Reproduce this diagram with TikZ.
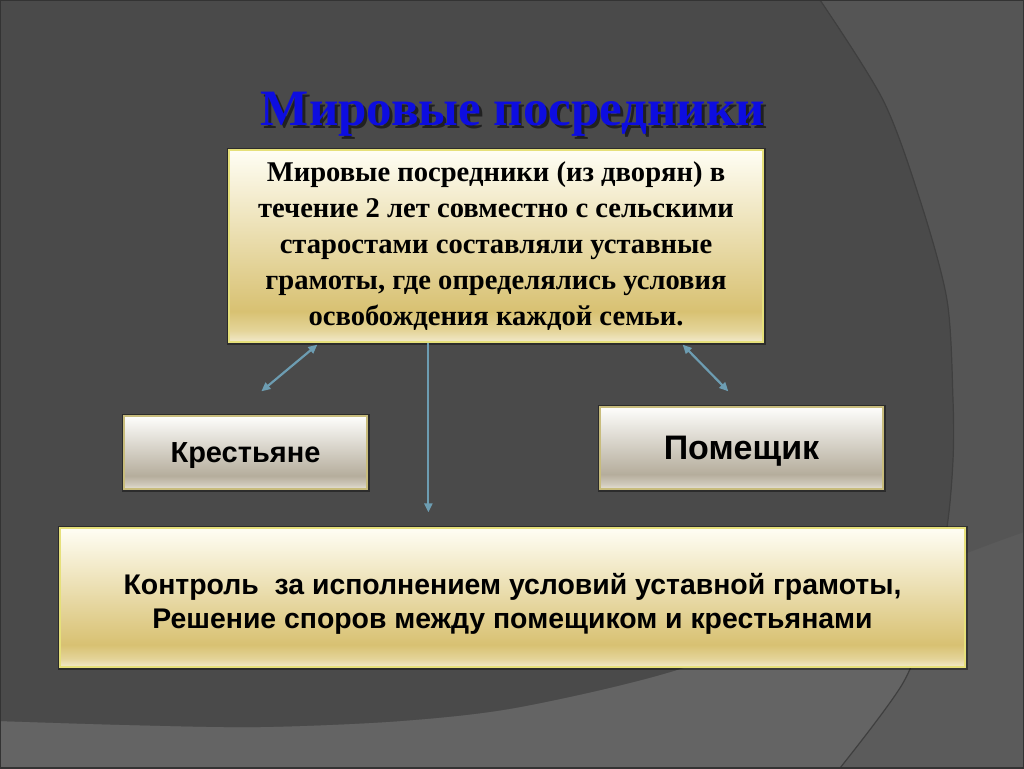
\documentclass[tikz,border=0pt]{standalone}
\usepackage{fontspec}
\setmainfont{Liberation Serif}
\setsansfont{Liberation Sans}
\usetikzlibrary{arrows.meta}
\definecolor{bgdark}{HTML}{4A4A4A}
\definecolor{bgright}{HTML}{555555}
\definecolor{bgband}{HTML}{646464}
\definecolor{bgbandr}{HTML}{5B5B5B}
\definecolor{arcline}{HTML}{3F3F3F}
\definecolor{framec}{HTML}{333333}
\definecolor{gtop}{HTML}{FFFEF4}
\definecolor{gmid}{HTML}{E4D499}
\definecolor{ggold}{HTML}{D8C172}
\definecolor{gbot}{HTML}{F2EACB}
\definecolor{stop}{HTML}{FEFEFC}
\definecolor{smid}{HTML}{D0CABC}
\definecolor{sgray}{HTML}{B5AD9C}
\definecolor{sbot}{HTML}{E6E2D6}
\definecolor{goldline}{HTML}{E6E07A}
\definecolor{grayline}{HTML}{C8BC7C}
\definecolor{arrowc}{HTML}{6D9DB2}
\definecolor{titleblue}{HTML}{0D0DE0}
\pgfdeclareverticalshading{goldshade}{100bp}{color(0bp)=(gbot); color(25bp)=(gbot); color(28bp)=(gmid); color(33bp)=(ggold); color(75bp)=(gtop); color(100bp)=(gtop)}
\pgfdeclareverticalshading{grayshade}{100bp}{color(0bp)=(sbot); color(25bp)=(sbot); color(28bp)=(smid); color(34bp)=(sgray); color(75bp)=(stop); color(100bp)=(stop)}
\tikzset{
  boxshadow/.style={preaction={draw=black, line width=5pt, opacity=0.4}},
  goldbox/.style={boxshadow, shading=goldshade, draw=goldline, line width=1.3pt, inner sep=0pt, align=center},
  graybox/.style={boxshadow, shading=grayshade, draw=grayline, line width=1.3pt, inner sep=0pt, align=center, text depth=0pt},
  conn/.style={draw=arrowc, line width=2.2pt},
  tip/.tip={Triangle[length=9pt,width=8pt]},
  serifbody/.style={font=\bfseries\fontsize{28.6}{36}\selectfont},
  sansbody/.style={font=\sffamily\bfseries\fontsize{28.4}{34}\selectfont, align=center},
  titlestyle/.style={font=\bfseries\fontsize{51}{56}\selectfont, anchor=base}
}
\begin{document}
\begin{tikzpicture}[x=1pt,y=-1pt]
\useasboundingbox (0,0) rectangle (1024,768);
% background
\fill[bgbandr] (0,0) rectangle (1024,768);
\fill[bgband] (0,0) -- plot[smooth] coordinates {(820,0) (883,100) (920,200) (947,300) (953,400) (953,460) (947,527) (930,610) (903,683) (840,768)} -- (0,768) -- cycle;
\begin{scope}
\clip (0,0) -- (1024,0) -- plot[smooth] coordinates {(1024,532) (967,553) (850,600) (683,668) (520,707) (400,721) (260,727) (130,725) (0,721)} -- cycle;
\fill[bgright] (0,0) rectangle (1024,768);
\fill[bgdark] (0,0) -- plot[smooth] coordinates {(820,0) (883,100) (920,200) (947,300) (953,400) (953,460) (947,527) (930,610) (903,683) (840,768)} -- (0,768) -- cycle;
\end{scope}
\draw[arcline, line width=1.2pt] plot[smooth] coordinates {(820,0) (883,100) (920,200) (947,300) (953,400) (953,460) (947,527) (930,610) (903,683) (840,768)};
\draw[framec, line width=2pt] (0,0) rectangle (1024,768);
% title
\node[titlestyle, text=black, opacity=0.55] (titlesh) at (516,128) {Мировые посредники};
\node[titlestyle, text=titleblue] (title) at (513,125) {Мировые посредники};
% boxes
\node[goldbox, serifbody, minimum width=534pt, minimum height=192pt] (top) at (496,246)
  {Мировые посредники (из дворян) в\\течение 2 лет совместно с сельскими\\старостами составляли уставные\\грамоты, где определялись условия\\освобождения каждой семьи.};
\node[graybox, font=\sffamily\bfseries\fontsize{29}{32}\selectfont, minimum width=243pt, minimum height=73pt] (krest) at (245.5,452.5) {Крестьяне};
\node[graybox, font=\sffamily\bfseries\fontsize{34}{38}\selectfont, minimum width=283pt, minimum height=82pt] (pomesh) at (741.5,448) {Помещик};
\node[goldbox, minimum width=905pt, minimum height=139pt] (ctrl) at (512.5,597.5) {};
\node[sansbody] (ctrltext) at ([yshift=-6pt]ctrl.center)
  {Контроль\ \ за исполнением условий уставной грамоты,\\Решение споров между помещиком и крестьянами};
% connectors
\draw[conn, tip-tip] ([xshift=89pt,yshift=-2pt]top.south west) -- ([xshift=138pt,yshift=24pt]krest.north west);
\draw[conn, tip-tip] ([xshift=-81pt,yshift=-2pt]top.south east) -- ([xshift=129pt,yshift=15pt]pomesh.north west);
\draw[conn, -tip] ([xshift=200pt]top.south west) -- ([xshift=369pt,yshift=15pt]ctrl.north west);
\end{tikzpicture}
\end{document}
